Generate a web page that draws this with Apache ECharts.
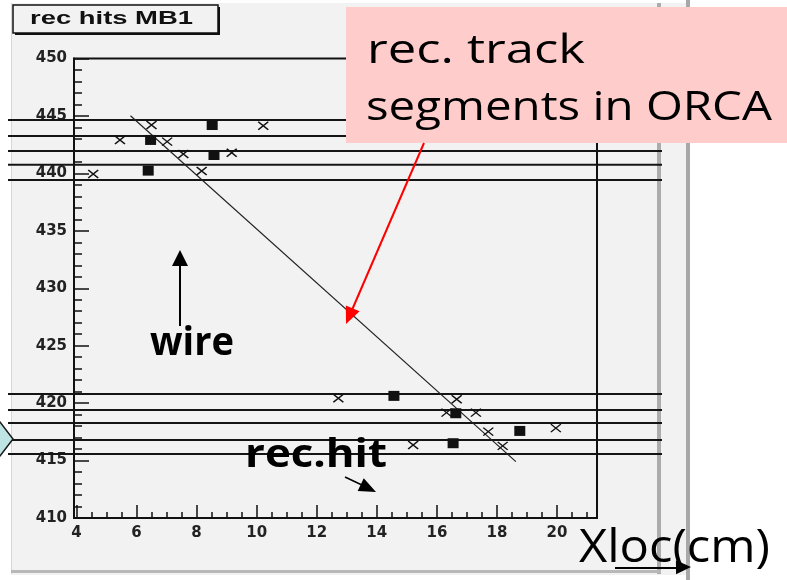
<!DOCTYPE html>
<html>
<head>
<meta charset="utf-8">
<script src="https://cdn.jsdelivr.net/npm/echarts@6/dist/echarts.min.js"></script>
<style>
  html, body { margin: 0; padding: 0; background: #ffffff; }
  #chart { width: 787px; height: 580px; }
</style>
</head>
<body>
<div id="chart"></div>
<script>
// Drift-tube wire layers (local y, cm): one horizontal line per layer
const wireLayers = [444.65, 443.26, 441.95, 440.74, 439.43, 420.80, 419.41, 418.28, 416.80, 415.58];

// Reconstructed track segment (end points)
const segmentX = [5.8, 18.63];
const segmentY = [445.02, 414.91];

// Reconstructed hits, drawn as crosses
const crossHitX = [4.56, 5.45, 6.50, 7.02, 7.56, 8.17, 9.17, 10.22,
                   12.72, 15.21, 16.66, 16.32, 17.30, 17.71, 18.19, 19.96];
const crossHitY = [439.95, 442.90, 444.21, 442.76, 441.69, 440.21, 441.80, 444.15,
                   420.43, 416.36, 420.34, 419.17, 419.17, 417.52, 416.28, 417.82];

// Reconstructed hits, drawn as filled squares
const squareHitX = [6.39, 6.47, 8.52, 8.58, 14.57, 16.63, 16.54, 18.76];
const squareHitY = [440.24, 442.91, 444.21, 441.60, 420.63, 419.12, 416.51, 417.58];

// Axis tick labels
const xTickLabels = [4, 6, 8, 10, 12, 14, 16, 18, 20];
const yTickLabels = [410, 415, 420, 425, 430, 435, 440, 445, 450];

const X_MIN = 3.92, X_MAX = 21.33;
// the wire layers run across the whole pad, past the frame
const WIRE_FROM = 1.72, WIRE_TO = 23.49;

const xMinorTicks = [];
for (let v = 4; v <= 21.01; v += 0.5) xMinorTicks.push(+v.toFixed(1));

const zip = (xs, ys) => xs.map((x, i) => [x, ys[i]]);

const labelFont = { fontFamily: 'DejaVu Sans', fontWeight: 'bold', fontSize: 15, color: '#222' };
const handFamily = "'Comic Sans MS', 'Open Sans', sans-serif";

// Fit a text run between two x positions on a given baseline
const measureCtx = document.createElement('canvas').getContext('2d');
function fitText(text, o) {
  const weight = o.weight || 'normal';
  measureCtx.font = weight + ' ' + o.size + 'px ' + o.family;
  measureCtx.textBaseline = 'middle';
  const w = measureCtx.measureText(text).width;
  const off = measureCtx.measureText('x').actualBoundingBoxDescent;
  return {
    type: 'text', x: o.left, y: o.baseline - off, scaleX: (o.right - o.left) / w, z: 100,
    style: {
      text: text, fontSize: o.size, fontFamily: o.family, fontWeight: weight,
      fill: o.color || '#000', align: 'left', verticalAlign: 'middle', lineHeight: o.size
    }
  };
}

function arrowHead(tip, from, len, half, color) {
  const dx = tip[0] - from[0], dy = tip[1] - from[1];
  const d = Math.hypot(dx, dy), ux = dx / d, uy = dy / d;
  const bx = tip[0] - ux * len, by = tip[1] - uy * len;
  return {
    type: 'polygon', z: 100,
    shape: { points: [tip, [bx - uy * half, by + ux * half], [bx + uy * half, by - ux * half]] },
    style: { fill: color }
  };
}

const graphics = [
  // canvas / pad frame
  { type: 'rect', z: -10, shape: { x: 11, y: 3, width: 677, height: 572 }, style: { fill: '#f2f2f2' } },
  { type: 'line', z: -9, shape: { x1: 11.5, y1: 3, x2: 11.5, y2: 574 }, style: { stroke: '#d6d6d6', lineWidth: 1 } },
  { type: 'rect', z: -9, shape: { x: 657, y: 3, width: 4, height: 571 }, style: { fill: '#acacac' } },
  { type: 'rect', z: -9, shape: { x: 11, y: 570, width: 650, height: 3 }, style: { fill: '#b8b8b8' } },
  { type: 'rect', z: -9, shape: { x: 686, y: 0, width: 4, height: 580 }, style: { fill: '#a8a8a8' } },

  // histogram title box
  { type: 'rect', z: 100, shape: { x: 15, y: 7, width: 205, height: 28 }, style: { fill: '#111' } },
  { type: 'rect', z: 100, shape: { x: 13, y: 5, width: 205, height: 28 }, style: { fill: '#f2f2f2', stroke: '#111', lineWidth: 1.5 } },
  fitText('rec hits MB1', { left: 30, right: 193, baseline: 24, size: 19, weight: 'bold', family: "'Liberation Sans', Arial, sans-serif", color: '#111' }),

  // callout box for the segment
  { type: 'rect', z: 100, shape: { x: 346, y: 7, width: 441, height: 136 }, style: { fill: '#ffcccc' } },
  fitText('rec. track', { left: 367, right: 585, baseline: 63, size: 40, family: handFamily }),
  fitText('segments in ORCA', { left: 366, right: 772, baseline: 120, size: 40, family: handFamily }),
  { type: 'line', z: 100, shape: { x1: 424, y1: 143, x2: 352, y2: 310 }, style: { stroke: '#ff0000', lineWidth: 2 } },
  arrowHead([346, 324], [424, 143], 17, 7.5, '#ff0000'),

  // wire label
  fitText('wire', { left: 150, right: 234, baseline: 355, size: 40, weight: 'bold', family: handFamily }),
  { type: 'line', z: 100, shape: { x1: 180, y1: 326, x2: 180, y2: 262 }, style: { stroke: '#000', lineWidth: 2 } },
  arrowHead([180, 250], [180, 326], 16, 8, '#000'),

  // rec.hit label
  fitText('rec.hit', { left: 245, right: 387, baseline: 467, size: 40, weight: 'bold', family: handFamily }),
  { type: 'line', z: 100, shape: { x1: 345, y1: 477, x2: 364, y2: 486 }, style: { stroke: '#000', lineWidth: 1.5 } },
  arrowHead([376, 492], [345, 477], 17, 7, '#000'),

  // axis name
  fitText('Xloc(cm)', { left: 579, right: 770, baseline: 562, size: 46, family: handFamily }),
  { type: 'line', z: 100, shape: { x1: 615, y1: 568, x2: 678, y2: 568 }, style: { stroke: '#000', lineWidth: 2 } },
  arrowHead([691, 567], [615, 568], 15, 7, '#000'),

  // slide shape peeking in at the left edge
  { type: 'polygon', z: 100, shape: { points: [[-6, 422], [0, 422], [13, 439], [0, 456], [-6, 456]] },
    style: { fill: '#bfe4e4', stroke: '#1a1a1a', lineWidth: 1.5 } }
];

// wires live on a second, axis-less grid that spans the whole pad width
const wireSeries = wireLayers.map(y => ({
  type: 'line', xAxisIndex: 2, yAxisIndex: 1,
  data: [[WIRE_FROM, y], [WIRE_TO, y]], symbol: 'none', silent: true,
  lineStyle: { color: '#141414', width: 2 }, z: 2
}));

const hiddenAxis = {
  axisLine: { show: false }, axisTick: { show: false }, axisLabel: { show: false }, splitLine: { show: false }
};

const chart = echarts.init(document.getElementById('chart'), null, { renderer: 'canvas' });
chart.setOption({
  animation: false,
  backgroundColor: '#ffffff',
  grid: [
    {
      left: 74, right: 190, top: 58.5, bottom: 62,
      show: true, borderColor: '#111', borderWidth: 2, backgroundColor: 'transparent'
    },
    { left: 8, right: 125, top: 58.5, bottom: 62, show: false }
  ],
  xAxis: [
    {
      type: 'value', min: X_MIN, max: X_MAX, position: 'bottom', gridIndex: 0,
      axisLine: { show: true, lineStyle: { color: '#111', width: 2 } },
      axisTick: { show: true, inside: true, length: 13, customValues: xTickLabels, lineStyle: { color: '#111', width: 1.5 } },
      axisLabel: Object.assign({ show: true, margin: 8, customValues: xTickLabels }, labelFont),
      splitLine: { show: false }
    },
    Object.assign({
      type: 'value', min: X_MIN, max: X_MAX, position: 'bottom', gridIndex: 0
    }, hiddenAxis, {
      axisTick: { show: true, inside: true, length: 6, customValues: xMinorTicks, lineStyle: { color: '#111', width: 1.5 } }
    }),
    Object.assign({ type: 'value', min: WIRE_FROM, max: WIRE_TO, gridIndex: 1 }, hiddenAxis)
  ],
  yAxis: [
    {
      type: 'value', min: 410, max: 450, interval: 5, gridIndex: 0,
      axisLine: { show: true, lineStyle: { color: '#111', width: 2 } },
      axisTick: { show: true, inside: true, length: 15, lineStyle: { color: '#111', width: 1.5 } },
      minorTick: { show: true, splitNumber: 5, length: 8, lineStyle: { color: '#111', width: 1.5 } },
      axisLabel: Object.assign({ show: true, margin: 7, customValues: yTickLabels }, labelFont),
      splitLine: { show: false }
    },
    Object.assign({ type: 'value', min: 410, max: 450, gridIndex: 1 }, hiddenAxis)
  ],
  graphic: { elements: graphics },
  series: wireSeries.concat([
    {
      type: 'line', xAxisIndex: 0, yAxisIndex: 0, data: zip(segmentX, segmentY), symbol: 'none', silent: true,
      lineStyle: { color: '#222', width: 1.2 }, z: 3
    },
    {
      type: 'scatter', xAxisIndex: 0, yAxisIndex: 0, data: zip(crossHitX, crossHitY), symbol: 'path://M0,0L1,1M1,0L0,1',
      symbolSize: [10, 8], itemStyle: { color: 'transparent', borderColor: '#111', borderWidth: 1.4, opacity: 1 }, z: 4
    },
    {
      type: 'scatter', xAxisIndex: 0, yAxisIndex: 0, data: zip(squareHitX, squareHitY), symbol: 'rect',
      symbolSize: [11, 10], itemStyle: { color: '#111', opacity: 1 }, z: 5
    }
  ])
});
</script>
</body>
</html>
